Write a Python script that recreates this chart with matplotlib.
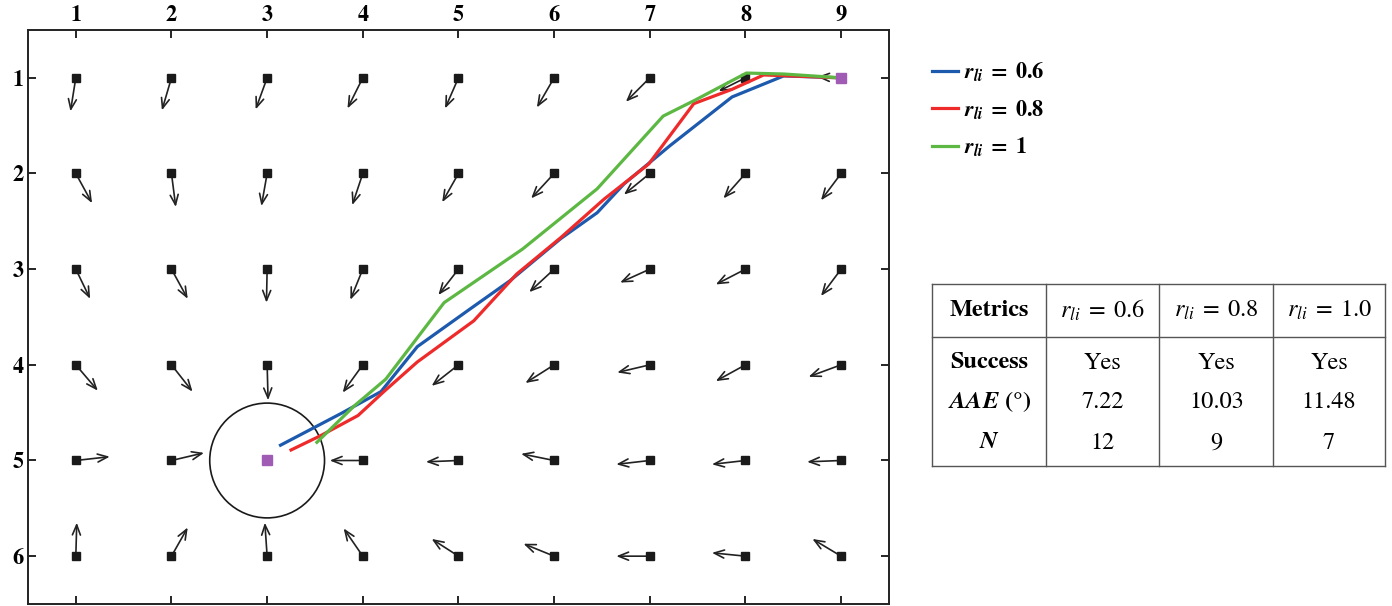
import matplotlib
matplotlib.use("Agg")
import matplotlib.pyplot as plt
from matplotlib.patches import Circle

plt.rcParams['font.family'] = ['STIXGeneral', 'DejaVu Serif']
plt.rcParams['mathtext.fontset'] = 'stix'

# grid of field vectors, rows y=1..6, columns x=1..9
grid_x = [1, 2, 3, 4, 5, 6, 7, 8, 9]
grid_y = [1, 2, 3, 4, 5, 6]
U = [
    [-0.056, -0.10, -0.12, -0.16, -0.14, -0.18, -0.25, -0.28, -0.25],
    [0.17, 0.045, -0.06, -0.11, -0.17, -0.24, -0.27, -0.23, -0.21],
    [0.15, 0.17, -0.007, -0.13, -0.21, -0.26, -0.31, -0.31, -0.21],
    [0.23, 0.22, 0.01, -0.21, -0.28, -0.30, -0.34, -0.31, -0.34],
    [0.355, 0.34, 0.0, -0.345, -0.34, -0.345, -0.35, -0.35, -0.355],
    [0.01, 0.17, -0.024, -0.20, -0.28, -0.32, -0.35, -0.35, -0.30],
]
V = [
    [0.35, 0.34, 0.33, 0.32, 0.32, 0.31, 0.25, 0.14, -0.01],
    [0.31, 0.35, 0.34, 0.33, 0.30, 0.26, 0.22, 0.26, 0.28],
    [0.31, 0.31, 0.35, 0.32, 0.27, 0.24, 0.14, 0.16, 0.28],
    [0.27, 0.28, 0.37, 0.29, 0.22, 0.19, 0.08, 0.17, 0.125],
    [-0.04, -0.08, 0.0, 0.0, 0.014, -0.07, 0.04, 0.04, 0.014],
    [-0.35, -0.30, -0.35, -0.29, -0.18, -0.13, 0.0, -0.035, -0.18],
]

obstacle = (3, 5)
obstacle_r = 0.6
goal = (9, 1)

# paths
blue_x = [3.14, 3.77, 4.19, 4.57, 5.13, 5.54, 6.07, 6.45, 6.73, 7.21, 7.86, 8.40, 9.0]
blue_y = [4.84, 4.51, 4.28, 3.81, 3.41, 3.12, 2.68, 2.41, 2.11, 1.71, 1.20, 0.98, 1.0]
red_x = [3.25, 3.56, 3.95, 4.22, 4.57, 5.16, 5.61, 6.07, 6.52, 6.99, 7.46, 7.86, 8.19, 9.0]
red_y = [4.89, 4.74, 4.53, 4.28, 3.97, 3.54, 3.05, 2.67, 2.27, 1.90, 1.27, 1.12, 0.97, 1.0]
green_x = [3.52, 3.91, 4.24, 4.85, 5.67, 6.45, 7.14, 7.46, 8.01, 8.40, 9.0]
green_y = [4.81, 4.43, 4.15, 3.35, 2.79, 2.16, 1.40, 1.24, 0.95, 0.96, 1.0]
labels = [r'$\mathbfit{r_{li}}\;\mathbf{=}\;\mathbf{0.6}$', r'$\mathbfit{r_{li}}\;\mathbf{=}\;\mathbf{0.8}$',
          r'$\mathbfit{r_{li}}\;\mathbf{=}\;\mathbf{1}$']

# table
col_heads = ['Metrics', r'$r_{li}\;=\;0.6$', r'$r_{li}\;=\;0.8$', r'$r_{li}\;=\;1.0$']
row_names = ['Success', r'$\mathbfit{AAE}$ (°)', r'$\mathbfit{N}$']
success = ['Yes', 'Yes', 'Yes']
aae = ['7.22', '10.03', '11.48']
n_steps = ['12', '9', '7']

fig = plt.figure(figsize=(13.92, 6.06), dpi=100)
ax = fig.add_axes([0.0201, 0.0033, 0.6185, 0.9472])

for i, yy in enumerate(grid_y):
    for j, xx in enumerate(grid_x):
        if (xx, yy) == obstacle:
            continue
        ax.annotate('', xy=(xx + U[i][j], yy + V[i][j]), xytext=(xx, yy),
                    arrowprops=dict(arrowstyle='->,head_length=0.4,head_width=0.16',
                                    mutation_scale=18, lw=1.2, color='#222222',
                                    shrinkA=0, shrinkB=0), zorder=2)
        ax.plot(xx, yy, 's', color='#1a1a1a', ms=5.5, zorder=3)

ax.add_patch(Circle(obstacle, obstacle_r, fill=False, ec='#1a1a1a', lw=1.2, zorder=2))

ax.plot(blue_x, blue_y, color='#1d5aad', lw=2.3, label=labels[0], zorder=4)
ax.plot(red_x, red_y, color='#ee2a2a', lw=2.3, label=labels[1], zorder=4)
ax.plot(green_x, green_y, color='#5cb843', lw=2.3, label=labels[2], zorder=5)

ax.plot(*obstacle, 's', color='#a05cb5', ms=7.5, zorder=6)
ax.plot(*goal, 's', color='#a05cb5', ms=7.5, zorder=6)

ax.set_xlim(0.5, 9.5)
ax.set_ylim(6.5, 0.5)
ax.set_xticks(grid_x)
ax.set_yticks(grid_y)
ax.tick_params(direction='in', length=6, width=1.2, top=True, right=True,
               labeltop=True, labelbottom=False, labelsize=16, pad=3)
for lab in ax.get_xticklabels() + ax.get_yticklabels():
    lab.set_fontweight('bold')
for s in ax.spines.values():
    s.set_linewidth(1.4)
    s.set_color('#222222')

ax.legend(loc='upper left', bbox_to_anchor=(0.655, 0.935), bbox_transform=fig.transFigure,
          frameon=False, fontsize=16, handlelength=1.2, handletextpad=0.25, labelspacing=0.65)

# table drawn in its own axes
tx = fig.add_axes([0.6695, 0.231, 0.3255, 0.300])
tx.set_xlim(0, 1)
tx.set_ylim(0, 1)
tx.axis('off')
cols = [0, 0.252, 0.502, 0.753, 1.0]
lc = '#555555'
for c in cols:
    tx.plot([c, c], [0, 1], color=lc, lw=1.0, clip_on=False)
for r in [0, 0.709, 1]:
    tx.plot([0, 1], [r, r], color=lc, lw=1.0, clip_on=False)
centers = [(cols[k] + cols[k + 1]) / 2 for k in range(4)]
fs = 17.5
tx.text(centers[0], 0.855, col_heads[0], ha='center', va='center', fontsize=fs, fontweight='bold')
for k in range(1, 4):
    tx.text(centers[k], 0.855, col_heads[k], ha='center', va='center', fontsize=fs)
row_y = [0.567, 0.353, 0.127]
for r, name in enumerate(row_names):
    tx.text(centers[0], row_y[r], name, ha='center', va='center', fontsize=fs, fontweight='bold')
for k in range(3):
    tx.text(centers[k + 1], row_y[0], success[k], ha='center', va='center', fontsize=fs)
    tx.text(centers[k + 1], row_y[1], aae[k], ha='center', va='center', fontsize=fs)
    tx.text(centers[k + 1], row_y[2], n_steps[k], ha='center', va='center', fontsize=fs)

fig.savefig('out.png', dpi=100)
